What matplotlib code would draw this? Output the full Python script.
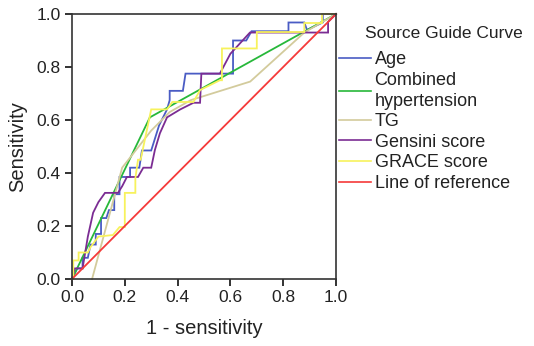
import matplotlib
matplotlib.use("Agg")
import matplotlib.pyplot as plt

plt.rcParams['font.family'] = ['Liberation Sans', 'DejaVu Sans']

# Age (blue)
age_x = [0, 0.02, 0.04, 0.04, 0.06, 0.07, 0.09, 0.09, 0.11, 0.11, 0.13, 0.14, 0.16, 0.16, 0.18, 0.18,
         0.22, 0.22, 0.255, 0.265, 0.30, 0.33, 0.36, 0.37, 0.37, 0.42, 0.43, 0.61, 0.61, 0.66, 0.68,
         0.82, 0.82, 0.88, 0.89, 0.95, 0.95, 1.0]
age_y = [0, 0.04, 0.04, 0.08, 0.08, 0.13, 0.13, 0.17, 0.17, 0.23, 0.23, 0.26, 0.26, 0.32, 0.32, 0.385,
         0.385, 0.42, 0.42, 0.485, 0.485, 0.58, 0.64, 0.675, 0.71, 0.71, 0.775, 0.775, 0.90, 0.90, 0.935,
         0.935, 0.968, 0.968, 0.94, 0.968, 1.0, 1.0]

# Combined hypertension (green)
comb_x = [0, 0.295, 1.0]
comb_y = [0, 0.61, 1.0]

# TG (khaki)
tg_x = [0.076, 0.19, 0.30, 0.37, 0.45, 0.675, 0.88, 1.0]
tg_y = [0, 0.42, 0.56, 0.63, 0.675, 0.745, 0.93, 1.0]

# Gensini score (purple)
gen_x = [0, 0.011, 0.04, 0.06, 0.08, 0.10, 0.125, 0.174, 0.19, 0.208, 0.25, 0.27, 0.30, 0.314, 0.333,
         0.36, 0.41, 0.46, 0.485, 0.49, 0.56, 0.60, 0.674, 0.88, 0.89, 0.97, 0.97, 1.0]
gen_y = [0, 0.04, 0.04, 0.16, 0.25, 0.29, 0.325, 0.325, 0.35, 0.385, 0.385, 0.42, 0.42, 0.487, 0.55,
         0.61, 0.64, 0.665, 0.665, 0.775, 0.775, 0.85, 0.93, 0.93, 0.93, 0.93, 0.97, 1.0]

# GRACE score (yellow)
gr_x = [0, 0.005, 0.005, 0.025, 0.025, 0.06, 0.07, 0.10, 0.155, 0.18, 0.2, 0.2, 0.24, 0.24, 0.25, 0.26,
        0.30, 0.36, 0.38, 0.46, 0.485, 0.56, 0.568, 0.568, 0.70, 0.70, 0.88, 0.88, 0.947, 0.947, 1.0]
gr_y = [0, 0, 0.07, 0.07, 0.10, 0.10, 0.12, 0.16, 0.166, 0.196, 0.196, 0.325, 0.325, 0.38, 0.45, 0.45,
        0.64, 0.64, 0.668, 0.668, 0.713, 0.75, 0.75, 0.87, 0.87, 0.932, 0.932, 0.966, 0.966, 1.0, 1.0]

# Line of reference (red)
ref_x = [0, 1]
ref_y = [0, 1]

series = [
    ("Age", age_x, age_y, "#4a5cc4"),
    ("Combined\nhypertension", comb_x, comb_y, "#27b83a"),
    ("TG", tg_x, tg_y, "#d3cb9c"),
    ("Gensini score", gen_x, gen_y, "#7b2c93"),
    ("GRACE score", gr_x, gr_y, "#f7f25c"),
    ("Line of reference", ref_x, ref_y, "#f53a3a"),
]

fig = plt.figure(figsize=(5.34, 3.46), dpi=100)
ax = fig.add_axes([72 / 534, 1 - 279 / 346, 264 / 534, 265 / 346])

for label, xs, ys, col in series:
    ax.plot(xs, ys, color=col, lw=1.3, label=label, clip_on=False, solid_joinstyle='miter')

ax.set_xlim(0, 1)
ax.set_ylim(0, 1)
ticks = [0.0, 0.2, 0.4, 0.6, 0.8, 1.0]
ticklabels = ["0.0", "0.2", "0.4", "0.6", "0.8", "1.0"]
ax.set_xticks(ticks)
ax.set_xticklabels(ticklabels)
ax.set_yticks(ticks)
ax.set_yticklabels(ticklabels)
ax.tick_params(direction='out', length=5, width=1.3, labelsize=12.5, colors='#222222', pad=3)
for s in ax.spines.values():
    s.set_linewidth(1.2)
    s.set_color('#333333')

ax.set_xlabel("1 - sensitivity", fontsize=14.5, color='#222222', labelpad=10)
ax.set_ylabel("Sensitivity", fontsize=14.5, color='#222222', labelpad=7)

fig.text(365 / 534, 1 - 33 / 346, "Source Guide Curve", fontsize=12.5, color='#222222',
         ha='left', va='center')

leg = ax.legend(loc='upper left', bbox_to_anchor=(339 / 534, 1 - 51 / 346),
                bbox_transform=fig.transFigure, frameon=False, fontsize=13,
                handlelength=1.75, handletextpad=0.22, labelspacing=0.2,
                borderpad=0, borderaxespad=0)
for t in leg.get_texts():
    t.set_color('#222222')
    t.set_linespacing(1.3)
for h in leg.get_lines():
    h.set_linewidth(1.2)

fig.savefig("out.png", dpi=100)
